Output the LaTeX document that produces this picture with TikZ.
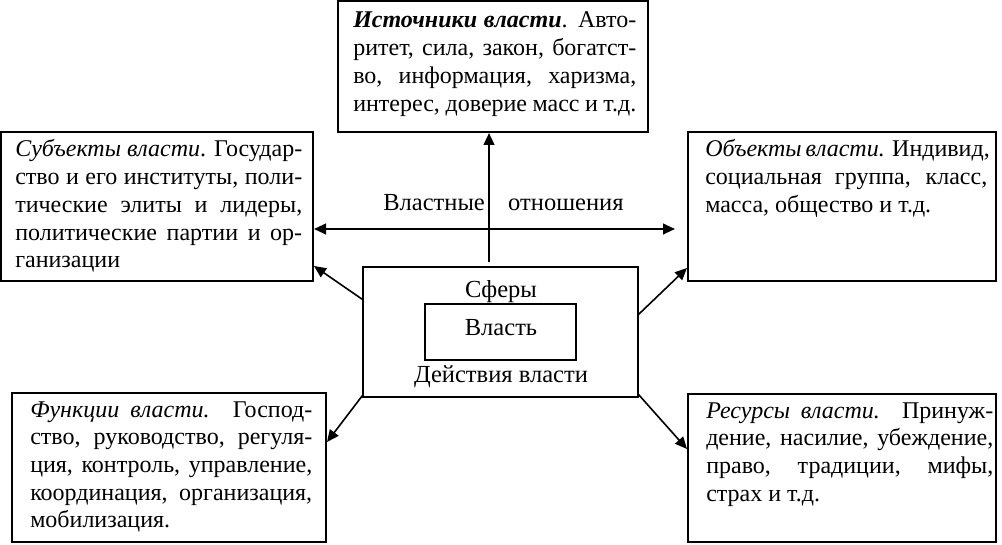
\documentclass[tikz,border=0pt]{standalone}
\usepackage{fontspec}
\setmainfont{Liberation Serif}
\usetikzlibrary{arrows.meta,calc,fit}
\newcommand{\jl}[1]{\makebox[\linewidth][s]{#1}\\}
\newcommand{\blocktext}[2]{\parbox[t]{#1}{\fontsize{18}{20.8}\selectfont #2}}
\tikzset{
  outerbox/.style={draw, line width=1.5pt, inner sep=0pt},
  midbox/.style={draw, line width=0.9pt, inner sep=0pt},
  innerbox/.style={draw, line width=1.1pt, inner sep=0pt},
  txt/.style={anchor=base west, inner sep=0pt},
  lbl/.style={anchor=base, inner sep=0pt, font=\fontsize{18.4}{22}\selectfont},
  arr/.style={line width=1.5pt, -{Triangle[length=9pt,width=8pt]}},
  arrboth/.style={line width=1.5pt, {Triangle[length=9pt,width=8pt]}-{Triangle[length=9pt,width=8pt]}},
  darr/.style={line width=1.2pt, -{Triangle[length=9pt,width=8pt]}}
}
\begin{document}
\begin{tikzpicture}[x=0.75pt,y=-0.75pt]
\useasboundingbox (0,0) rectangle (1002,545);
% boxes
\node[outerbox, fit={(338,1) (648,132)}] (src) {};
\node[outerbox, fit={(1,132) (313,281)}] (sub) {};
\node[outerbox, fit={(688,132) (996,281)}] (obj) {};
\node[outerbox, fit={(12,393) (326,542)}] (fun) {};
\node[outerbox, fit={(688,394) (996,542)}] (res) {};
\node[midbox, fit={(363,267) (638,397)}] (cen) {};
\node[innerbox, fit={(425,304) (576,360)}] (pow) {};
% texts
\node[txt] (srct) at (353,28) {\blocktext{212.25pt}{%
\jl{\textbf{\textit{Источники власти}}. Авто-}%
\jl{ритет, сила, закон, богатст-}%
\jl{во, информация, харизма,}%
интерес, доверие масс и т.д.}};
\node[txt] (subt) at (15,157) {\blocktext{215.25pt}{%
\jl{\textit{Субъекты власти}. Государ-}%
\jl{ство и его институты, поли-}%
\jl{тические элиты и лидеры,}%
\jl{политические партии и ор-}%
ганизации}};
\node[txt] (objt) at (705,157) {\blocktext{211.5pt}{%
\jl{\textit{Объекты власти.} Индивид,}%
\jl{социальная группа, класс,}%
масса, общество и т.д.}};
\node[txt] (funt) at (30,417) {\blocktext{211.5pt}{%
\jl{\textit{Функции власти.} Господ-}%
\jl{ство, руководство, регуля-}%
\jl{ция, контроль, управление,}%
\jl{координация, организация,}%
мобилизация.}};
\node[txt] (rest) at (706,418) {\blocktext{215.25pt}{%
\jl{\textit{Ресурсы власти.} Принуж-}%
\jl{дение, насилие, убеждение,}%
\jl{право, традиции, мифы,}%
страх и т.д.}};
% centre labels
\node[lbl] (sph) at (501,297) {Сферы};
\node[lbl] (powl) at (501,335) {Власть};
\node[lbl] (act) at (501,382) {Действия власти};
\node[lbl, anchor=base west] (rel) at (383,211) {Властные\hspace{17.5pt}отношения};
% connectors
\draw[arr] ($(cen.north)+(-11.5,-4)$) -- ($(src.south)+(-4,0)$);
\draw[arrboth] ($(sub.east)+(0,22.5)$) -- ($(obj.west)+(-12,22.5)$);
\draw[darr] ($(cen.north west)+(0,33)$) -- ($(sub.south east)+(0,-16)$);
\draw[darr] ($(cen.north east)+(0,48)$) -- ($(obj.south west)+(0,-14)$);
\draw[darr] ($(cen.south west)+(0,-2)$) -- ($(fun.north east)+(0,50)$);
\draw[darr] ($(cen.south east)+(0,-3)$) -- ($(res.north west)+(0,56)$);
\end{tikzpicture}
\end{document}
